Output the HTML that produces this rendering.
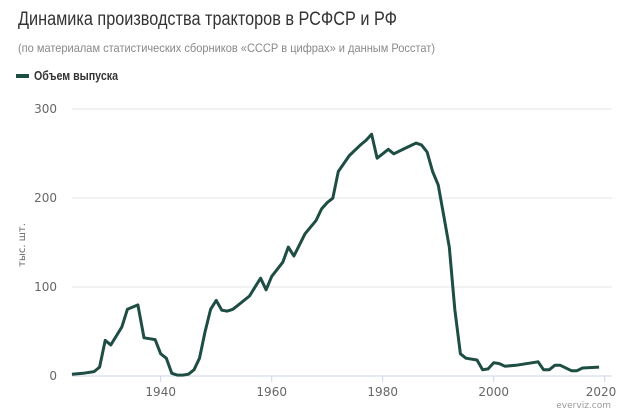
<!DOCTYPE html>
<html><head><meta charset="utf-8"><style>
body{margin:0;background:#fff;width:620px;height:415px;overflow:hidden;font-family:"Liberation Sans","DejaVu Sans",sans-serif}
</style></head><body>
<svg width="620" height="415" xmlns="http://www.w3.org/2000/svg" font-family="'DejaVu Sans','Liberation Sans',sans-serif">
<text x="18" y="25" font-size="19" font-family="'Liberation Sans',sans-serif" fill="#333" textLength="379" lengthAdjust="spacingAndGlyphs">Динамика производства тракторов в РСФСР и РФ</text>
<text x="18" y="52" font-size="12" font-family="'Liberation Sans',sans-serif" fill="#888" textLength="417" lengthAdjust="spacingAndGlyphs">(по материалам статистических сборников «СССР в цифрах» и данным Росстат)</text>
<line x1="16" y1="76" x2="29" y2="76" stroke="#1e4d44" stroke-width="4"/>
<text x="34" y="80" font-size="12.5" font-family="'Liberation Sans',sans-serif" font-weight="bold" fill="#333" textLength="84" lengthAdjust="spacingAndGlyphs">Объем выпуска</text>
<g stroke="#e6e6e6" stroke-width="1">
<line x1="72" y1="109" x2="612" y2="109"/>
<line x1="72" y1="198" x2="612" y2="198"/>
<line x1="72" y1="287" x2="612" y2="287"/>
<line x1="72" y1="376" x2="612" y2="376" stroke="#ccd6eb"/>
</g>
<g stroke="#ccd6eb"><line x1="160.7" y1="376" x2="160.7" y2="382"/><line x1="271.7" y1="376" x2="271.7" y2="382"/><line x1="382.7" y1="376" x2="382.7" y2="382"/><line x1="493.7" y1="376" x2="493.7" y2="382"/><line x1="604.7" y1="376" x2="604.7" y2="382"/></g>
<g font-size="12" fill="#666" text-anchor="end">
<text x="57" y="113">300</text><text x="57" y="202">200</text><text x="57" y="291">100</text><text x="57" y="380">0</text>
</g>
<g font-size="12" fill="#666" text-anchor="middle">
<text x="160.7" y="396">1940</text><text x="271.7" y="396">1960</text><text x="382.7" y="396">1980</text><text x="493.7" y="396">2000</text><text x="601" y="396">2020</text>
</g>
<text transform="translate(25,245) rotate(-90)" font-size="10" fill="#666" text-anchor="middle">тыс. шт.</text>
<text x="611" y="408" font-size="9" fill="#999" text-anchor="end">everviz.com</text>
<polyline fill="none" stroke="#1e4d44" stroke-width="3" stroke-linejoin="round" id="p" points=""/>
<script>
var d=[[1924,2],[1926,3],[1928,5],[1929,10],[1930,40],[1931,35],[1932,45],[1933,55],[1934,75],[1935.9,80],[1937,43],[1938,42],[1939,41],[1940,25],[1941,20],[1942,3],[1943,1],[1944,1],[1945,2],[1946,7],[1947,20],[1948,50],[1949,75],[1950,85],[1951,74],[1952,73],[1953,75],[1954,80],[1956,90],[1957,100],[1958,110],[1959,97],[1960,112],[1962,128],[1963,145],[1964,135],[1966,160],[1968,175],[1969,188],[1970,195],[1971,200],[1972,230],[1974,248],[1976,260],[1977,265],[1978,272],[1979,245],[1980,250],[1981,255],[1982,250],[1984,256],[1986,262],[1987,260],[1988,252],[1989,230],[1990,215],[1991,180],[1992,145],[1993,75],[1994,25],[1995,20],[1997,18],[1998,7],[1999,8],[2000,15],[2001,14],[2002,11],[2004,12],[2008,16],[2009,7],[2010,7],[2011,12],[2012,12],[2014,6],[2015,6],[2016,9],[2019,10]];
document.getElementById('p').setAttribute('points',d.map(function(a){return (160.7+(a[0]-1940)*5.55).toFixed(1)+','+(376-a[1]*0.889).toFixed(1)}).join(' '));
</script>
</svg>
</body></html>
